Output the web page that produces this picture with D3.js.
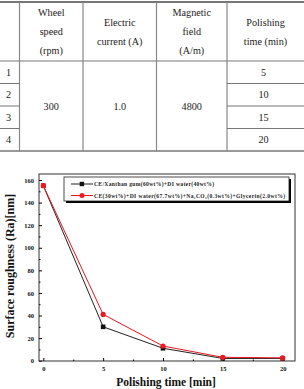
<!DOCTYPE html>
<html>
<head>
<meta charset="utf-8">
<script src="https://d3js.org/d3.v7.min.js"></script>
<style>
body { margin: 0; background: #fff; }
svg { display: block; }
.tbl text { fill: #222; text-anchor: middle; }
.ax text { font-weight: bold; fill: #111; }
</style>
</head>
<body>
<svg width="304" height="389"></svg>
<script>
// table content
var headers = [["Wheel", "speed", "(rpm)"], ["Electric", "current (A)"], ["Magnetic", "field", "(A/m)"], ["Polishing", "time (min)"]];
var rowIds = ["1", "2", "3", "4"];
var wheelSpeed = "300", current = "1.0", field = "4800";
var times = ["5", "10", "15", "20"];

// chart data
var polishTime = [0, 5, 10, 15, 20];
var blackSeries = [155, 30, 11, 2, 2];
var redSeries = [155, 41, 13, 3, 2.5];
var seriesNames = ["CE/Xanthan gum(60wt%)+DI water(40wt%)", "CE(30wt%)+DI water(67.7wt%)+Na\u2082CO\u2083(0.3wt%)+Glycerin(2.0wt%)"];
var xTicks = [0, 5, 10, 15, 20];
var yTicks = [0, 20, 40, 60, 80, 100, 120, 140, 160];

var svg = d3.select("svg");
var serif = "'Liberation Serif', 'Times New Roman', serif";

// ---- table ----
var tbl = svg.append("g").attr("class", "tbl");
var colX = [0, 19.5, 83, 156.5, 227, 304];
var headTop = 2, headBot = 61, rowH = 22.5;
var rowY = rowIds.map(function(d, i) { return headBot + i * rowH; });
var tblBot = headBot + 4 * rowH;

tbl.append("line").attr("x1", 0).attr("x2", 304).attr("y1", headTop).attr("y2", headTop)
    .attr("stroke", "#777").attr("stroke-width", 2);
tbl.append("line").attr("x1", 0).attr("x2", 304).attr("y1", headBot).attr("y2", headBot)
    .attr("stroke", "#777").attr("stroke-width", 1.2);
tbl.append("line").attr("x1", 0).attr("x2", 304).attr("y1", tblBot).attr("y2", tblBot)
    .attr("stroke", "#777").attr("stroke-width", 1.5);
colX.slice(1, 5).forEach(function(x) {
  tbl.append("line").attr("x1", x).attr("x2", x).attr("y1", headTop).attr("y2", tblBot)
      .attr("stroke", "#888").attr("stroke-width", 1.2);
});
rowY.slice(1).forEach(function(y) {
  [[colX[0], colX[1]], [colX[4], colX[5]]].forEach(function(c) {
    tbl.append("line").attr("x1", c[0]).attr("x2", c[1]).attr("y1", y).attr("y2", y)
        .attr("stroke", "#777").attr("stroke-width", 1);
  });
});

headers.forEach(function(h, i) {
  var cx = (colX[i + 1] + colX[i + 2]) / 2;
  var mid = (headTop + headBot) / 2 + 3.5;
  var lh = 19;
  h.forEach(function(s, j) {
    tbl.append("text").attr("x", cx).attr("y", mid + (j - (h.length - 1) / 2) * lh)
        .attr("font-family", serif).attr("font-size", 10.2).text(s);
  });
});
rowIds.forEach(function(r, i) {
  tbl.append("text").attr("x", colX[0] + 8.5).attr("y", rowY[i] + rowH / 2 + 3.5)
      .attr("font-family", serif).attr("font-size", 10.2).text(r);
  tbl.append("text").attr("x", (colX[4] + colX[5]) / 2 - 2).attr("y", rowY[i] + rowH / 2 + 3.5)
      .attr("font-family", serif).attr("font-size", 10.2).text(times[i]);
});
var midRows = (headBot + tblBot) / 2 + 3.5;
[wheelSpeed, current, field].forEach(function(s, i) {
  tbl.append("text").attr("x", (colX[i + 1] + colX[i + 2]) / 2).attr("y", midRows)
      .attr("font-family", serif).attr("font-size", 10.2).text(s);
});

// ---- chart ----
var frame = {l: 39, t: 174, r: 295, b: 361};
var x = d3.scaleLinear().domain([0, 20]).range([43.3, 282.7]);
var y = d3.scaleLinear().domain([0, 160]).range([360.7, 180]);

var ax = svg.append("g").attr("class", "ax");
ax.append("rect").attr("x", frame.l).attr("y", frame.t)
    .attr("width", frame.r - frame.l).attr("height", frame.b - frame.t)
    .attr("fill", "none").attr("stroke", "#333").attr("stroke-width", 1);

var xAxis = d3.axisBottom(x).tickValues(xTicks).tickSize(-3).tickPadding(5);
ax.append("g").attr("transform", "translate(0," + frame.b + ")").call(xAxis)
    .call(function(g) { g.select(".domain").remove(); g.selectAll("text").attr("font-size", 6.5).attr("font-family", serif); });
ax.append("g").attr("transform", "translate(0," + frame.b + ")")
    .call(d3.axisBottom(x).tickValues([2.5, 7.5, 12.5, 17.5]).tickSize(-1.5).tickFormat(""))
    .call(function(g) { g.select(".domain").remove(); });

var yAxis = d3.axisLeft(y).tickValues(yTicks).tickSize(-3).tickPadding(5);
ax.append("g").attr("transform", "translate(" + frame.l + ",0)").call(yAxis)
    .call(function(g) { g.select(".domain").remove(); g.selectAll("text").attr("font-size", 6.5).attr("font-family", serif); });
ax.append("g").attr("transform", "translate(" + frame.l + ",0)")
    .call(d3.axisLeft(y).tickValues(d3.range(10, 160, 20)).tickSize(-1.5).tickFormat(""))
    .call(function(g) { g.select(".domain").remove(); });

ax.append("text").attr("x", 166).attr("y", 386)
    .attr("text-anchor", "middle").attr("font-size", 11.5).attr("font-family", serif).text("Polishing time [min]");
ax.append("text").attr("transform", "translate(13.5," + 266 + ") rotate(-90)")
    .attr("text-anchor", "middle").attr("font-size", 12).attr("font-family", serif).text("Surface roughness (Ra)[nm]");

var line = d3.line().x(function(d, i) { return x(polishTime[i]); }).y(function(d) { return y(d); });

svg.append("path").datum(blackSeries).attr("d", line)
    .attr("fill", "none").attr("stroke", "#222").attr("stroke-width", 1);
svg.selectAll(".bpt").data(blackSeries).enter().append("rect").attr("class", "bpt")
    .attr("x", function(d, i) { return x(polishTime[i]) - 2.3; })
    .attr("y", function(d) { return y(d) - 2.3; })
    .attr("width", 4.6).attr("height", 4.6).attr("fill", "#111");

svg.append("path").datum(redSeries).attr("d", line)
    .attr("fill", "none").attr("stroke", "#e8141c").attr("stroke-width", 1);
svg.selectAll(".rpt").data(redSeries).enter().append("circle").attr("class", "rpt")
    .attr("cx", function(d, i) { return x(polishTime[i]); })
    .attr("cy", function(d) { return y(d); })
    .attr("r", 2.6).attr("fill", "#f01820");

// legend
var lg = svg.append("g");
lg.append("rect").attr("x", 66).attr("y", 179).attr("width", 225).attr("height", 24).attr("fill", "#000");
lg.append("rect").attr("x", 64).attr("y", 177).attr("width", 225).attr("height", 24)
    .attr("fill", "#fff").attr("stroke", "#222").attr("stroke-width", 0.8);
var textLens = [120, 191];
[{c: "#222", yy: 184}, {c: "#e8141c", yy: 195.5}].forEach(function(e, i) {
  lg.append("line").attr("x1", 71).attr("x2", 93).attr("y1", e.yy).attr("y2", e.yy)
      .attr("stroke", e.c).attr("stroke-width", 1);
  if (i === 0) {
    lg.append("rect").attr("x", 79.7).attr("y", e.yy - 2.2).attr("width", 4.4).attr("height", 4.4).attr("fill", "#111");
  } else {
    lg.append("circle").attr("cx", 82).attr("cy", e.yy).attr("r", 2.5).attr("fill", "#f01820");
  }
  lg.append("text").attr("x", 94).attr("y", e.yy + 2)
      .attr("font-family", serif).attr("font-weight", "bold")
      .attr("font-size", 5.6).attr("fill", "#222")
      .attr("textLength", textLens[i]).attr("lengthAdjust", "spacing").text(seriesNames[i]);
});
</script>
</body>
</html>
